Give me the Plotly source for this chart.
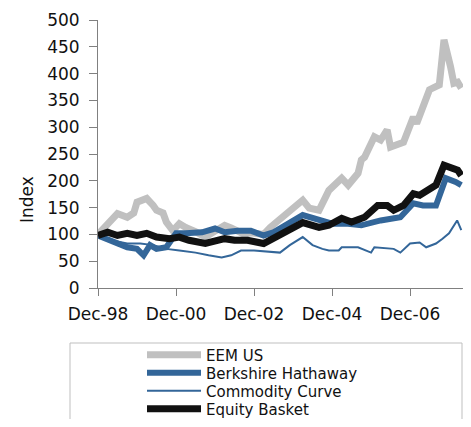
import plotly.graph_objects as go

# ---- data ----
eem_dates = ["1998-12-01","1999-04-01","1999-06-01","1999-09-01","1999-11-01","1999-12-01",
             "2000-03-01","2000-05-01","2000-06-01","2000-08-01","2000-09-01","2000-11-01",
             "2001-01-01","2001-03-01","2001-04-01","2001-06-01","2001-09-01","2001-12-01",
             "2002-03-01","2002-05-01","2002-07-01","2002-09-01","2002-11-01","2003-03-01",
             "2003-05-01","2003-07-01","2003-11-01","2004-03-01","2004-05-01","2004-08-01",
             "2004-11-01","2005-03-01","2005-05-01","2005-08-01","2005-09-01","2005-10-01",
             "2006-01-01","2006-03-01","2006-05-01","2006-06-01","2006-10-01","2007-01-01",
             "2007-02-01","2007-06-01","2007-09-01","2007-10-15","2007-12-15","2008-01-15",
             "2008-02-20","2008-03-25"]
eem_vals = [100,125,139,132,140,160,
            167,154,145,140,123,107,
            120,113,111,105,95,105,
            117,112,105,100,103,100,
            113,123,145,164,149,145,
            182,205,192,214,239,244,
            282,276,295,263,272,319,
            307,370,379,463,413,382,
            384,373]

brk_dates = ["1998-12-01","1999-05-01","1999-09-01","1999-12-01","2000-02-01","2000-04-01",
             "2000-06-01","2000-09-01","2000-12-01","2001-03-01","2001-08-01","2001-12-01",
             "2002-03-01","2002-07-01","2002-11-01","2003-03-01","2003-06-01","2004-03-01",
             "2004-08-01","2004-12-01","2005-05-01","2005-09-01","2006-03-01","2006-09-01",
             "2007-01-01","2007-04-01","2007-08-01","2007-11-01","2008-02-01","2008-03-25"]
brk_vals = [98,85,76,73,61,80,
            73,76,102,102,104,111,
            104,107,107,98,104,136,
            126,120,120,117,126,132,
            158,154,154,205,198,192]

com_dates = ["1998-12-01","1999-04-01","1999-09-01","2000-01-01","2000-05-01","2000-09-01",
             "2001-01-01","2001-06-01","2001-10-01","2002-02-01","2002-05-01","2002-08-01",
             "2002-12-01","2003-08-01","2003-11-01","2004-03-01","2004-06-01","2004-09-01",
             "2004-11-01","2005-02-01","2005-03-01","2005-08-01","2005-12-01","2006-01-01",
             "2006-07-01","2006-09-01","2006-12-01","2007-03-01","2007-05-01","2007-08-01",
             "2007-10-01","2007-12-01","2008-02-15","2008-03-25"]
com_vals = [98,89,83,83,80,73,
            70,66,61,57,61,70,
            70,66,80,95,80,73,
            70,70,76,76,66,76,
            73,66,83,85,76,83,
            92,102,126,108]

eq_dates = ["1998-12-01","1999-03-01","1999-06-01","1999-09-01","1999-12-01","2000-03-01",
            "2000-06-01","2000-10-01","2001-01-01","2001-04-01","2001-09-01","2001-12-01",
            "2002-03-01","2002-06-01","2002-10-01","2003-03-01","2003-07-01","2003-09-01",
            "2004-03-01","2004-08-01","2004-11-01","2005-03-01","2005-06-01","2005-10-01",
            "2006-02-01","2006-05-01","2006-07-01","2006-10-01","2007-01-01","2007-03-01",
            "2007-08-01","2007-10-15","2007-12-15","2008-02-20","2008-03-25"]
eq_vals = [98,104,98,102,98,102,
           95,92,95,89,83,89,
           92,89,89,83,95,104,
           122,113,117,130,123,132,
           154,154,145,154,176,173,
           192,229,224,220,210]

series_names = ["EEM US", "Berkshire Hathaway", "Commodity Curve", "Equity Basket"]
tick_vals = ["1998-12-01", "2000-12-01", "2002-12-01", "2004-12-01", "2006-12-01"]
tick_text = ["Dec-98", "Dec-00", "Dec-02", "Dec-04", "Dec-06"]

FONT = "DejaVu Sans"
GREY = "#C0C0C0"
BLUE = "#336699"
BLACK = "#111111"
# the page body has an 8px margin on every side: size the figure so nothing overflows
OFF = 8
W, H = 471 - 2 * OFF, 427 - 2 * OFF
PL, PR, PT, PB = 98, 463, 20, 288   # plot area in window pixels
PW, PH = PR - PL, PB - PT

fig = go.Figure()
specs = [
    (eem_dates, eem_vals, series_names[0], GREY, 7, "legend"),
    (brk_dates, brk_vals, series_names[1], BLUE, 6, "legend2"),
    (com_dates, com_vals, series_names[2], BLUE, 2, "legend3"),
    (eq_dates, eq_vals, series_names[3], BLACK, 7, "legend4"),
]
for d, v, name, col, w, lg in specs:
    fig.add_trace(go.Scatter(x=d, y=v, name=name, mode="lines", showlegend=True,
                             line=dict(color=col, width=w), legend=lg))

# legend rows (window pixel centres) placed in container coordinates
row_px = [355, 373, 391, 409]
legend_common = dict(xref="container", yref="container", x=(142 - OFF) / W, xanchor="left",
                     yanchor="middle", bgcolor="rgba(0,0,0,0)",
                     borderwidth=0, itemwidth=54, visible=True,
                     font=dict(family=FONT, size=15, color="#111111"))
fig.update_layout(
    showlegend=True,
    legend=dict(y=1 - (row_px[0] - OFF) / H, **legend_common),
    legend2=dict(y=1 - (row_px[1] - OFF) / H, **legend_common),
    legend3=dict(y=1 - (row_px[2] - OFF) / H, **legend_common),
    legend4=dict(y=1 - (row_px[3] - OFF) / H, **legend_common),
)

fig.add_shape(type="rect", xref="paper", yref="paper",
              x0=(70 - PL) / PW, x1=(462 - PL) / PW,
              y0=(PB - 343) / PH, y1=(PB - 460) / PH,
              line=dict(color="#BFBFBF", width=1), fillcolor="rgba(0,0,0,0)", layer="below")

fig.add_annotation(text="Index", xref="paper", yref="paper",
                   x=(27 - PL) / PW, y=(PB - 200) / PH, textangle=-90,
                   xanchor="center", yanchor="middle",
                   showarrow=False, font=dict(family=FONT, size=17, color="#111111"))

fig.update_layout(
    width=W, height=H,
    margin=dict(l=PL - OFF, r=W - (PR - OFF), t=PT - OFF, b=H - (PB - OFF), autoexpand=False),
    paper_bgcolor="white", plot_bgcolor="white",
    font=dict(family=FONT, size=17, color="#111111"),
    xaxis=dict(type="date", range=["1998-12-01", "2008-04-10"],
               tickvals=tick_vals, ticktext=tick_text,
               showgrid=False, zeroline=False, showline=True, linecolor="#808080", linewidth=1,
               ticks="outside", ticklen=7, tickcolor="#808080", ticklabelstandoff=4),
    yaxis=dict(range=[0, 500], dtick=50, tick0=0,
               showgrid=False, zeroline=False, showline=True, linecolor="#808080", linewidth=1,
               ticks="outside", ticklen=8, tickcolor="#808080", ticklabelstandoff=6),
)

fig.write_html("out.html")
